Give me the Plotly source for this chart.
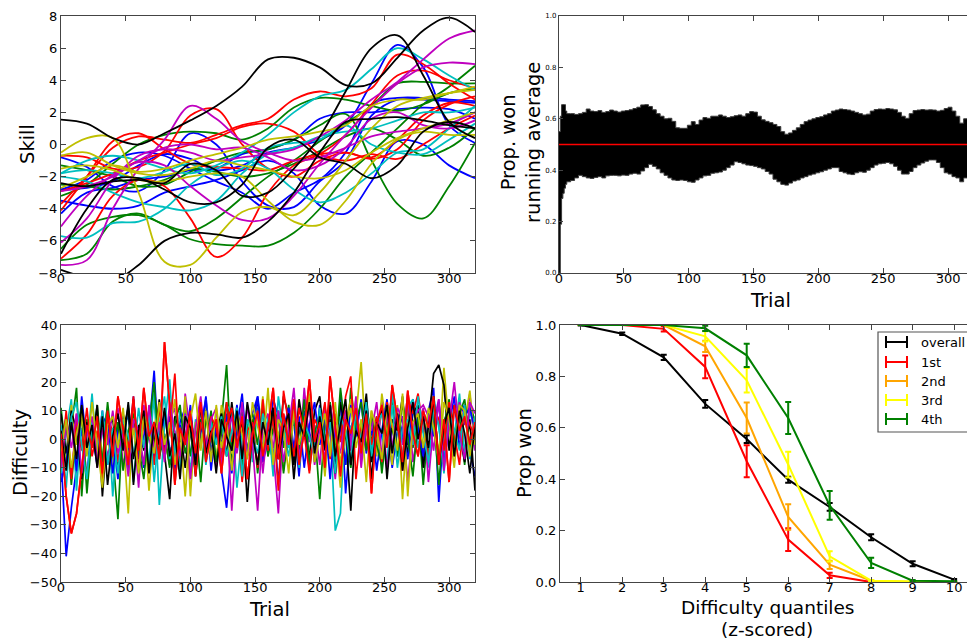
import plotly.graph_objects as go

W, H = 967, 641
def PX(x): return x / W
def PY(y): return 1 - y / H

FONT = "DejaVu Sans"
COL = {"b": "#0000ff", "g": "#008000", "r": "#ff0000", "c": "#00bfbf",
       "m": "#bf00bf", "y": "#bfbf00", "k": "#000000"}

# ---------------- Skill (top-left): control values every 20 trials ----------------
SKILL_TRIALS = [0, 20, 40, 60, 80, 100, 120, 140, 160, 180, 200, 220, 240, 260, 280, 300, 320]
SKILL_BLUE = [
    [-2.8, -2.7, -2.3, -1.3, -0.6, -0.9, -1.6, -1.3, -0.5, -0.2, 0.3, 1.2, 3.8, 6.2, 4.8, 1.2, 0.1],
    [-0.8, -1.4, -2.6, -2.9, -1.6, 0.7, 0.0, -2.3, -3.8, -3.9, -2.3, -1.0, 1.8, 2.8, 2.8, 2.7, 2.6],
    [-3.5, -3.8, -4.0, -3.8, -3.0, -2.6, -2.2, -1.6, -1.0, -1.8, -3.8, -4.3, -2.3, 0.2, 0.0, -1.3, -2.1],
    [-4.3, -3.0, -2.7, -2.2, -2.0, -1.6, -1.5, -0.6, -0.3, 0.3, 1.6, 2.0, 2.0, 2.2, 2.3, 2.2, 1.6],
    [-2.8, -2.2, -1.0, -0.5, -0.7, -1.5, -2.3, -3.0, -4.0, -3.0, -2.2, -0.5, 2.5, 2.9, 2.9, 2.8, 2.7],
]
SKILL_GREEN = [
    [-1.3, -1.6, -2.0, -2.6, -2.5, -1.7, -1.0, -0.5, -0.3, 0.3, 1.2, 1.9, -1.0, -3.7, -4.6, -2.6, 0.1],
    [-6.5, -5.0, -4.5, -4.4, -5.0, -5.9, -6.2, -6.3, -6.3, -5.5, -4.0, -2.0, -0.5, 1.0, 2.5, 3.6, 4.9],
    [-7.2, -6.8, -4.8, -4.3, -5.0, -5.4, -4.6, -3.3, -2.0, -1.0, 0.2, 1.3, 2.4, 3.8, 3.9, 3.8, 3.8],
    [-3.2, -2.5, -1.2, 0.0, 0.6, 0.8, 0.7, 0.3, 1.0, 2.3, 2.9, 2.8, 2.4, 2.1, 2.5, 3.2, 3.5],
    [-2.5, -2.6, -2.8, -2.6, -2.2, -1.5, -1.7, -2.0, -1.8, -1.2, -0.4, 0.5, 1.0, 0.3, -0.7, -0.2, 1.0],
]
SKILL_RED = [
    [-7.1, -5.6, -3.2, -2.2, -2.6, -4.6, -7.0, -5.8, -3.0, -1.3, -0.6, 0.6, 2.5, 4.3, 4.6, 4.0, 3.5],
    [-0.7, -0.8, -1.5, -1.4, -0.4, 1.8, 2.2, 0.0, -1.5, -2.0, -1.0, -0.5, -0.9, -0.3, 1.5, 2.5, 3.0],
    [-3.7, -2.0, -0.2, 0.5, 0.3, 0.1, 0.6, 1.2, 1.6, 2.8, 3.3, 3.0, 3.5, 5.6, 5.0, 3.8, 2.8],
    [-4.1, -2.0, 0.2, 0.7, -0.3, -1.2, -1.4, -1.5, -1.6, -1.0, -0.6, -0.5, -0.8, 0.3, 1.8, 2.6, 2.4],
    [-2.9, -2.4, -1.8, -1.0, -0.5, 0.0, 0.4, 1.1, 1.3, 0.8, -0.6, -1.0, -0.6, -0.9, 0.0, 1.0, 1.8],
]
SKILL_CYAN = [
    [-1.8, -1.0, -0.7, -1.0, -1.5, -1.8, -1.3, -0.5, 0.6, 2.0, 3.0, 3.4, 4.7, 6.0, 5.3, 4.3, 3.4],
    [-2.0, -2.3, -3.0, -3.6, -3.9, -4.1, -3.5, -1.8, -0.6, -0.2, 0.5, 0.8, 1.0, 1.5, 2.0, 2.0, 2.3],
    [-5.7, -5.8, -4.9, -4.8, -4.0, -2.5, -1.5, -1.0, -1.5, -2.8, -3.6, -3.0, -1.8, -0.5, -0.3, 1.0, 2.4],
    [-1.8, -1.6, -1.8, -2.1, -1.7, -1.2, -1.9, -1.5, -0.2, 0.1, 0.3, 1.2, 0.0, -0.5, -0.6, 0.3, 1.3],
]
SKILL_MAGENTA = [
    [-6.1, -4.6, -2.2, -0.7, -0.3, -0.5, -1.0, -0.8, -0.6, -0.3, 0.5, 1.5, 2.8, 3.9, 5.3, 6.6, 7.1],
    [-5.1, -3.2, -1.9, -1.1, -1.3, -2.6, -3.8, -4.7, -4.6, -3.2, -1.2, 0.6, 2.3, 3.8, 4.8, 5.1, 5.0],
    [-7.5, -7.2, -4.0, -1.5, 0.3, 2.4, 1.6, 0.2, -0.5, -1.0, -0.8, -0.2, 0.5, 0.8, 1.0, 1.3, 2.0],
    [-2.9, -2.6, -2.0, -1.0, -0.2, 0.0, -0.3, -0.2, -0.8, -1.6, -1.3, -0.2, 1.6, 2.0, 1.2, 1.0, 1.5],
]
SKILL_YELLOW = [
    [-0.5, 0.4, 0.4, -3.0, -7.3, -7.5, -5.8, -4.2, -3.9, -4.4, -3.0, -1.0, 1.0, 2.4, 2.9, 3.2, 3.4],
    [-1.5, -1.3, -1.6, -2.2, -2.3, -2.0, -1.8, -2.0, -3.5, -4.8, -5.0, -3.5, -1.2, 0.3, 0.8, 0.6, 0.6],
    [-2.7, -2.0, -1.3, -1.7, -1.5, -1.0, -0.6, -0.2, 0.3, 0.5, 0.8, 1.2, 2.4, 2.8, 2.8, 3.2, 3.6],
    [-0.7, -0.5, -1.3, -1.8, -1.9, -1.5, -1.0, -1.3, -1.6, -2.0, -2.1, -1.6, -0.5, 0.4, 1.0, 1.5, 2.0],
]
SKILL_BLACK = [
    [1.55, 1.3, 0.4, 0.0, 0.7, 1.5, 2.4, 3.6, 5.3, 5.4, 4.8, 3.7, 3.8, 5.4, 7.1, 7.9, 7.0],
    [-2.4, -2.6, -2.3, -2.2, -2.4, -1.2, -1.6, -3.2, -3.0, -1.5, 0.5, 3.3, 6.0, 6.8, 4.3, 1.4, 0.4],
    [-7.8, -8.3, -8.5, -7.5, -6.0, -5.5, -5.6, -5.8, -4.8, -3.0, -0.5, 1.4, 1.6, 1.7, 1.5, 1.2, 1.0],
    [-6.8, -4.0, -2.2, -2.1, -2.8, -3.6, -3.6, -2.5, -0.2, 0.3, -0.8, -1.2, -2.1, -1.3, 0.8, 1.4, 1.0],
]

# ---------------- Difficulty (bottom-left): values every 4 trials ----------------
DIFF_TRIALS = list(range(0, 321, 4))
DIFF_BLUE = [
    [-6, -41, -24, -9, 4, -13, 7, -4, 10, -9, 2, -14, 5, 8, -6, 1, -10, 3, 24, -7,
     9, -3, -12, 6, 11, -5, -8, 2, 15, -4, 3, -11, -24, -2, 12, -6, 5, 9, 15, 1,
     -3, 14, 8, -9, 2, 6, -13, 10, 3, -5, 12, -1, 7, -8, 15, -19, 4, 9, -6, 11,
     2, -4, 13, 6, -10, 3, 8, -2, 14, 5, -7, 10, 18, -22, 6, 11, -3, 8, 12, -4, -13],
    [-15, -8, 6, -11, 15, -3, 2, -9, 8, 5, -12, 4, 9, -5, 15, -7, 1, 10, -6, 3,
     -3, 8, -10, 5, -2, 12, -7, 3, 14, -11, 6, -2, 9, -12, 4, 16, -5, 2, 15, -8,
     -1, 7, -15, 4, 11, -3, 8, -10, 5, 13, -2, 9, -14, 6, 4, -9, 12, 1, 14, -5,
     7, -11, 3, 14, -4, 9, 2, -7, 12, 4, -6, 10, 1, 13, -9, 5, 15, -3, 8, 11, 3],
]
DIFF_GREEN = [
    [11, -6, 4, 18, -20, 7, -2, 12, -8, 3, -5, -28, 9, -12, 6, 1, -9, 4, 14, -3,
     2, -10, 7, -1, 11, -6, 5, -15, 8, 0, -7, 6, 26, -9, 3, 10, -4, 7, -12, 5,
     1, -8, 9, -3, 12, -6, 2, 8, -11, 4, -21, 6, 13, -2, 7, -9, 18, 3, -5, 10,
     -1, 8, -12, 4, 15, -6, 2, 11, -3, 9, -16, 5, 12, -7, 3, 14, -2, 8, -9, 13, 6],
    [-3, 8, -16, 4, 11, -19, 2, 7, -8, 13, -4, 6, -11, 3, 9, -2, -14, 5, 20, -6,
     1, -9, 6, 12, -5, 3, -12, 7, -3, 10, -8, 2, 13, -4, 6, -10, 5, 9, -2, 11,
     -6, 4, 10, -12, 3, 7, -5, 14, -8, 2, 9, -3, 12, -7, 18, 2, -10, 6, 13, -4,
     8, -2, -9, 11, 4, -6, 13, 1, -13, 7, 3, -5, 10, -16, 6, 12, -1, 9, 14, -3, 5],
]
DIFF_RED = [
    [2, -20, -33, -26, -10, 5, -3, 8, -12, 10, -6, 15, 3, -9, 14, -4, 18, 1, 6, -7,
     34, 12, -16, 4, -2, 9, -5, 13, -8, 2, 7, -12, 5, 11, -3, 8, -14, 2, 10, -6,
     4, 18, -7, 9, -2, 14, -9, 3, 21, -1, 6, -10, 22, 4, -13, 7, 2, 11, -5, 9,
     -19, 5, 12, -3, 19, 7, -8, 17, 2, -6, 10, 4, 15, -9, 7, -15, 12, 3, 8, -2, 6],
    [-9, 10, -14, 7, -4, 11, -6, 3, -15, 9, 2, -8, 5, -3, 15, -11, 6, 4, -9, 12,
     -5, 3, 23, -8, 1, 10, -13, 6, -2, 8, 4, -7, 13, -1, 9, -15, 3, 6, -10, 14,
     -4, 8, -18, 17, 5, -6, 11, 2, -12, 7, 3, 13, -7, 9, -1, 15, 22, -14, 5, 10,
     -2, 8, -8, 13, 4, 6, -11, 14, 9, 16, 3, -6, 11, 7, -4, 13, 2, -9, 10, 5, 1],
]
DIFF_CYAN = [
    [-12, 3, 14, -18, 9, -4, 16, -7, 2, 11, -20, 6, -3, 12, -15, 4, 8, -9, 17, -23,
     5, 21, -6, 10, 2, -11, 7, -3, 14, -8, 3, -5, 12, 9, -17, 2, 6, -8, 11, -4,
     8, -13, 15, 2, -6, 10, -9, 4, 13, -2, 6, -11, 5, -32, -26, 10, 3, 12, -7, 14,
     -4, 7, 2, -9, 16, 3, -6, 11, 14, -3, 8, -10, 15, 4, -7, 12, 1, 16, -5, 10, 2],
    [5, -17, 8, 13, -2, -14, 6, -5, 10, -9, 4, -12, 7, 1, -6, 11, -3, 9, -15, 5,
     15, -7, 3, -11, 9, 2, -4, 12, -9, 6, -2, 8, -6, 3, 11, -13, 7, 1, -5, 9,
     2, -8, 10, 4, -3, 13, -10, 6, 1, -6, 11, -2, 6, -12, 8, 3, -8, 10, -1, 13,
     -6, 5, 9, -3, 12, -10, 4, 7, -2, 15, 2, -8, 11, 5, -12, 9, 3, -4, 12, -7, 8],
]
DIFF_MAGENTA = [
    [-8, 5, -14, 9, -3, 2, 7, -10, 4, -6, 3, 11, -9, -2, 6, -17, 12, 1, -8, 5,
     -3, 7, 11, -11, 16, 2, -7, 13, -4, 6, -10, 3, 8, -25, 4, -6, 12, -2, -25, 5,
     9, -4, -26, 7, 2, 13, -8, 18, -1, 5, -9, 11, 3, -14, 6, 10, -4, 15, -7, 2,
     8, -5, 13, -11, 4, 9, -2, 16, -8, 3, 11, -15, 6, 14, -3, 9, -6, 13, 5, 16, -4],
    [-10, 6, -3, 9, -12, 1, 8, -7, 4, -2, 10, -5, 2, -13, 7, 3, -9, 12, -4, 6,
     -8, 13, 2, -6, 9, -14, 4, 15, -3, 7, 11, -9, 1, 8, -5, 13, -7, 3, 9, -12,
     6, -3, 10, -8, 4, 18, -6, 2, 11, -9, 4, -7, 12, 2, -5, 9, -1, 14, -10, 6,
     3, 13, -6, 9, -3, 11, 7, -15, 4, 10, 12, 8, -4, 14, -11, 6, 20, 2, -7, 13, 9],
]
DIFF_YELLOW = [
    [4, -9, 12, -2, 7, -15, 3, 9, -6, 1, -11, 6, 2, -26, 13, -4, 8, -18, 5, 10,
     -7, 3, 14, -9, 15, -20, 6, -3, 11, 2, -8, 12, 4, -5, 9, -14, 3, 7, -2, 15,
     -6, 10, 2, -11, 7, 12, -4, 3, 16, -8, 5, -13, 9, 1, -17, 6, 14, 8, 27, -3,
     10, -6, 16, 3, -9, 12, -21, 7, 2, 11, -5, 8, 14, -7, 25, 4, -10, 11, 6, 17, -2],
    [-4, 7, -10, 2, 9, -6, 13, -1, -17, 5, 8, -3, 11, -7, 4, -12, 9, 2, -5, 13,
     -2, 6, -9, 4, -20, 7, 16, -4, 10, -8, 12, -3, 6, -11, 9, 2, -7, 13, 5, -4,
     18, -9, 7, 3, -12, 10, -2, 6, 14, -8, 1, 9, -6, 13, -9, 4, 11, -3, 7, -15,
     10, 3, -7, 12, 5, -4, 16, -20, 6, 9, -3, 11, 4, -8, 13, 7, -5, 12, 10, -6, 4],
]
DIFF_BLACK = [
    [9, -5, 10, 3, -14, 6, -2, 12, -20, 4, 7, -9, 3, 11, -16, 5, -4, 9, -2, 14,
     -5, -21, 8, 3, -10, 6, -13, 4, 10, -7, 2, 9, -6, 13, -3, 7, -22, 5, 14, -8,
     3, 11, -5, 15, 8, -9, 14, 2, -6, 10, 15, -4, 7, -12, 13, 3, -25, 9, 1, 16,
     -8, 4, 11, -14, 7, 3, 15, -6, 9, 12, -10, 5, 23, 26, 19, -4, 12, 2, -8, 7, -18],
    [3, -11, 6, -7, 12, -3, 5, -10, 8, -16, 1, 9, -4, 13, -7, 3, 10, -12, 6, -2,
     11, -6, 2, -14, 8, 4, -9, 12, -5, 3, -12, 7, 1, -4, 10, -7, 13, 2, -9, 6,
     -2, 11, -7, 4, 9, -14, 6, 1, 13, -5, 8, -3, 12, -6, 5, 14, -9, 3, -1, 10,
     -14, 6, 2, 12, -5, 9, -11, 4, 13, 0, 8, -3, 15, -9, 5, 11, -6, 10, 2, -12, 5],
]

# ---------------- Running average (top-right) ----------------
RUN_TRIALS = [0, 1, 2, 3, 4, 5, 6, 9, 12, 15, 18, 21, 24, 27, 30, 33, 36, 39, 42, 45, 48,
              51, 54, 57, 60, 63, 66, 69, 72, 75, 78, 81, 84, 87, 90, 93, 96, 99, 102,
              105, 108, 111, 114, 117, 120, 123, 126, 129, 132, 135, 138, 141, 144, 147,
              150, 153, 156, 159, 162, 165, 168, 171, 174, 177, 180, 183, 186, 189, 192,
              195, 198, 201, 204, 207, 210, 213, 216, 219, 222, 225, 228, 231, 234, 237,
              240, 243, 246, 249, 252, 255, 258, 261, 264, 267, 270, 273, 276, 279, 282,
              285, 288, 291, 294, 297, 300, 303, 306, 309, 312, 315]
RUN_UPPER = [0.55, 0.61, 0.655, 0.655, 0.655, 0.63, 0.62, 0.62, 0.617, 0.62, 0.625, 0.638,
             0.63, 0.628, 0.632, 0.625, 0.628, 0.634, 0.63, 0.626, 0.63, 0.632, 0.635, 0.64,
             0.645, 0.654, 0.655, 0.648, 0.635, 0.62, 0.61, 0.6, 0.602, 0.59, 0.565, 0.563,
             0.563, 0.575, 0.589, 0.578, 0.595, 0.605, 0.602, 0.61, 0.61, 0.615, 0.61, 0.605,
             0.608, 0.612, 0.615, 0.61, 0.62, 0.628, 0.626, 0.61, 0.596, 0.59, 0.585, 0.578,
             0.57, 0.55, 0.54, 0.545, 0.555, 0.565, 0.578, 0.589, 0.595, 0.6, 0.605, 0.608,
             0.615, 0.62, 0.63, 0.634, 0.638, 0.636, 0.634, 0.63, 0.625, 0.62, 0.615, 0.618,
             0.63, 0.636, 0.638, 0.637, 0.64, 0.638, 0.635, 0.625, 0.61, 0.602, 0.62, 0.632,
             0.634, 0.636, 0.634, 0.635, 0.634, 0.63, 0.633, 0.64, 0.645, 0.63, 0.61, 0.583,
             0.6, 0.615]
RUN_LOWER = [0.0, 0.19, 0.29, 0.31, 0.33, 0.345, 0.355, 0.36, 0.37, 0.38, 0.375, 0.37,
             0.368, 0.372, 0.375, 0.37, 0.378, 0.38, 0.38, 0.378, 0.381, 0.38, 0.385, 0.388,
             0.385, 0.397, 0.41, 0.423, 0.415, 0.405, 0.39, 0.38, 0.37, 0.362, 0.36, 0.362,
             0.36, 0.355, 0.353, 0.362, 0.37, 0.378, 0.38, 0.388, 0.39, 0.393, 0.4, 0.41,
             0.42, 0.433, 0.43, 0.425, 0.42, 0.418, 0.415, 0.41, 0.405, 0.395, 0.385, 0.365,
             0.355, 0.345, 0.342, 0.35, 0.358, 0.362, 0.37, 0.375, 0.381, 0.385, 0.39, 0.394,
             0.4, 0.405, 0.41, 0.41, 0.395, 0.39, 0.385, 0.383, 0.39, 0.394, 0.392, 0.4,
             0.41, 0.42, 0.425, 0.427, 0.43, 0.425, 0.415, 0.4, 0.385, 0.385, 0.395, 0.41,
             0.42, 0.428, 0.435, 0.44, 0.44, 0.43, 0.41, 0.39, 0.385, 0.375, 0.37, 0.355,
             0.37, 0.385]
CHANCE_X = [0, 320]
CHANCE_Y = [0.5, 0.5]

# ---------------- Prop won by difficulty quantile (bottom-right) ----------------
QUANTILES = [1, 2, 3, 4, 5, 6, 7, 8, 9, 10]
GROUP_NAMES = ["overall", "1st", "2nd", "3rd", "4th"]
PW_OVERALL = [1.0, 0.966, 0.874, 0.693, 0.556, 0.398, 0.292, 0.174, 0.071, 0.009]
PW_OVERALL_ERR = [0.002, 0.005, 0.01, 0.015, 0.015, 0.012, 0.015, 0.012, 0.01, 0.003]
PW_1ST = [1.0, 1.0, 0.985, 0.837, 0.47, 0.165, 0.026, 0.0, 0.0, 0.0]
PW_1ST_ERR = [0.0, 0.0, 0.01, 0.044, 0.062, 0.044, 0.01, 0.0, 0.0, 0.0]
PW_2ND = [1.0, 1.0, 1.0, 0.917, 0.638, 0.253, 0.067, 0.005, 0.0, 0.0]
PW_2ND_ERR = [0.0, 0.0, 0.0, 0.022, 0.06, 0.05, 0.016, 0.003, 0.0, 0.0]
PW_3RD = [1.0, 1.0, 1.0, 0.956, 0.785, 0.457, 0.1, 0.005, 0.002, 0.0]
PW_3RD_ERR = [0.0, 0.0, 0.0, 0.02, 0.048, 0.05, 0.02, 0.003, 0.0, 0.0]
PW_4TH = [1.0, 1.0, 1.0, 0.987, 0.882, 0.638, 0.298, 0.074, 0.005, 0.003]
PW_4TH_ERR = [0.0, 0.0, 0.0, 0.01, 0.045, 0.062, 0.056, 0.02, 0.003, 0.0]

fig = go.Figure()

# Skill curves
for key, group in [("b", SKILL_BLUE), ("g", SKILL_GREEN), ("r", SKILL_RED), ("c", SKILL_CYAN),
                   ("m", SKILL_MAGENTA), ("y", SKILL_YELLOW), ("k", SKILL_BLACK)]:
    for vals in group:
        fig.add_trace(go.Scatter(x=SKILL_TRIALS, y=vals, mode="lines",
                                 line=dict(color=COL[key], width=1.8, shape="spline", smoothing=1.0),
                                 xaxis="x", yaxis="y", showlegend=False, hoverinfo="skip"))

# Difficulty series (colours interleaved)
diff_groups = [("b", DIFF_BLUE), ("g", DIFF_GREEN), ("r", DIFF_RED), ("c", DIFF_CYAN),
               ("m", DIFF_MAGENTA), ("y", DIFF_YELLOW), ("k", DIFF_BLACK)]
for i in range(2):
    for key, group in diff_groups:
        vals = group[i]
        fig.add_trace(go.Scatter(x=DIFF_TRIALS[:len(vals)], y=vals, mode="lines",
                                 line=dict(color=COL[key], width=1.7),
                                 xaxis="x3", yaxis="y3", showlegend=False, hoverinfo="skip"))
fig.add_trace(go.Scatter(x=DIFF_TRIALS[:len(DIFF_RED[0])], y=DIFF_RED[0], mode="lines",
                         line=dict(color=COL["r"], width=1.7),
                         xaxis="x3", yaxis="y3", showlegend=False, hoverinfo="skip"))

# Running average band
fig.add_trace(go.Scatter(x=RUN_TRIALS, y=RUN_UPPER, mode="lines",
                         line=dict(color="#3a3a3a", width=1, shape="hv"),
                         xaxis="x2", yaxis="y2", showlegend=False, hoverinfo="skip"))
fig.add_trace(go.Scatter(x=RUN_TRIALS, y=RUN_LOWER, mode="lines", fill="tonexty",
                         fillcolor="black", line=dict(color="#3a3a3a", width=1, shape="hv"),
                         xaxis="x2", yaxis="y2", showlegend=False, hoverinfo="skip"))
fig.add_trace(go.Scatter(x=CHANCE_X, y=CHANCE_Y, mode="lines",
                         line=dict(color="#ff0000", width=1.5),
                         xaxis="x2", yaxis="y2", showlegend=False, hoverinfo="skip"))

# Prop won curves
PW_COLORS = ["#000000", "#ff0000", "#ffa500", "#ffff00", "#008000"]
pw_series = [(PW_OVERALL, PW_OVERALL_ERR), (PW_1ST, PW_1ST_ERR), (PW_2ND, PW_2ND_ERR),
             (PW_3RD, PW_3RD_ERR), (PW_4TH, PW_4TH_ERR)]
for (vals, errs), col, name in zip(pw_series, PW_COLORS, GROUP_NAMES):
    fig.add_trace(go.Scatter(x=QUANTILES, y=vals, mode="lines", name=name,
                             line=dict(color=col, width=2),
                             error_y=dict(type="data", array=errs, color=col, thickness=2, width=3),
                             xaxis="x4", yaxis="y4", showlegend=False, hoverinfo="skip"))

axc = "#444444"
def ax(**kw):
    d = dict(showgrid=False, zeroline=False, showline=True, linecolor=axc, linewidth=1.2,
             ticks="inside", ticklen=5, tickcolor=axc, mirror="ticks", automargin=False,
             tickfont=dict(family=FONT, size=13, color="black"))
    d.update(kw)
    return d

def xax(**kw):
    return ax(ticklabelstandoff=-7, **kw)

x_tl = [PX(61), PX(475)]
x_r = [PX(559), 1.0]
y_t = [PY(273), PY(16)]
y_b = [PY(582), PY(325)]
TICK01 = [0, 0.2, 0.4, 0.6, 0.8, 1.0]
TICK01_TXT = ["0.0", "0.2", "0.4", "0.6", "0.8", "1.0"]
TRIAL_TICKS = [0, 50, 100, 150, 200, 250, 300]

fig.update_layout(
    width=W, height=H, margin=dict(l=0, r=0, t=0, b=0, autoexpand=False),
    paper_bgcolor="white", plot_bgcolor="white",
    xaxis=xax(domain=x_tl, anchor="y", range=[0, 320], tickvals=TRIAL_TICKS),
    yaxis=ax(domain=y_t, anchor="x", range=[-8, 8], tickvals=[-8, -6, -4, -2, 0, 2, 4, 6, 8]),
    xaxis2=xax(domain=x_r, anchor="y2", range=[0, 314.6], tickvals=TRIAL_TICKS),
    yaxis2=ax(domain=y_t, anchor="x2", range=[0, 1], mirror=False,
              tickvals=TICK01, ticktext=TICK01_TXT,
              tickfont=dict(family=FONT, size=7, color="black"), ticklen=4),
    xaxis3=xax(domain=x_tl, anchor="y3", range=[0, 320], tickvals=TRIAL_TICKS),
    yaxis3=ax(domain=y_b, anchor="x3", range=[-50, 40], tickvals=list(range(-50, 41, 10))),
    xaxis4=xax(domain=[PX(560), 1.0], anchor="y4", range=[0.5, 10.31], tickvals=QUANTILES),
    yaxis4=ax(domain=y_b, anchor="x4", range=[0, 1], mirror=False,
              tickvals=TICK01, ticktext=TICK01_TXT),
)

ann = []
def label(text, x, y, size=19.5, angle=0, xanchor="center"):
    ann.append(dict(text=text, x=PX(x), y=PY(y), xref="paper", yref="paper", showarrow=False,
                    textangle=angle, xanchor=xanchor, yanchor="middle",
                    font=dict(family=FONT, size=size, color="black")))

label("Skill", 27, 144, angle=-90)
label("Prop. won<br>running average", 521, 143, angle=-90)
label("Trial", 770, 300)
label("Difficulty", 20, 453, angle=-90)
label("Trial", 269, 609)
label("Prop won", 524, 453, angle=-90)
label("Difficulty quantiles", 767, 607, size=18.5)
label("(z-scored)", 767, 629, size=18.5)

# custom errorbar-style legend
shapes = [dict(type="rect", xref="paper", yref="paper", x0=PX(878), x1=PX(990), y0=PY(432), y1=PY(332),
               line=dict(color="#555555", width=1.2), fillcolor="white", layer="above")]
entry_y = [342, 362, 381, 400, 419]
for name, col, ey in zip(GROUP_NAMES, PW_COLORS, entry_y):
    shapes.append(dict(type="line", xref="paper", yref="paper", x0=PX(886), x1=PX(907), y0=PY(ey), y1=PY(ey),
                       line=dict(color=col, width=2), layer="above"))
    for xx in (886, 907):
        shapes.append(dict(type="line", xref="paper", yref="paper", x0=PX(xx), x1=PX(xx),
                           y0=PY(ey - 6), y1=PY(ey + 6), line=dict(color=col, width=2), layer="above"))
    label(name, 919, ey, size=13, xanchor="left")

fig.update_layout(annotations=ann, shapes=shapes)
fig.write_html("out.html")
